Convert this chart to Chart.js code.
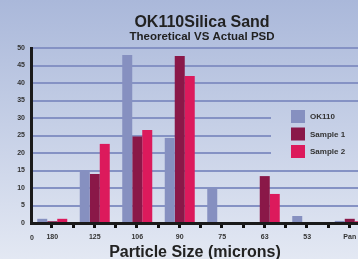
<!DOCTYPE html>
<html>
<head>
<meta charset="utf-8">
<script src="https://cdn.jsdelivr.net/npm/chart.js@4"></script>
<style>
  html, body { margin: 0; padding: 0; overflow: hidden; }
  body {
    width: 358px; height: 259px;
    background: linear-gradient(to bottom, #aab8da 0%, #c5cfe6 48%, #e3e8f3 100%);
  }
  canvas { display: block; }
</style>
</head>
<body>
<canvas id="chart" width="380" height="259"></canvas>
<script>
// sieve sizes (microns)
const sizes = ['180', '125', '106', '90', '75', '63', '53', 'Pan'];
const ok110 = [1.2, 15, 48, 24.3, 9.9, 0, 2, 0.6];
const sample1 = [0.5, 14, 24.7, 47.7, 0, 13.4, 0, 1.2];
const sample2 = [1.2, 22.6, 26.6, 42, 0, 8.3, 0, 0.5];
const seriesNames = ['OK110', 'Sample 1', 'Sample 2'];
const seriesColors = ['#8690c0', '#8a1848', '#dc1a5c'];

const FONT = '"Liberation Sans", Arial, Helvetica, sans-serif';

// titles, extra tick marks, legend box drawn by hand
const decor = {
  id: 'decor',
  beforeDatasetsDraw(chart) {
    // legend sits on top of the grid lines
    chart.ctx.clearRect(271, 106, 120, 59);
  },
  afterDraw(chart) {
    const ctx = chart.ctx;
    const x = chart.scales.x;
    ctx.save();
    ctx.fillStyle = '#222';
    ctx.textAlign = 'center';
    ctx.font = 'bold 16px ' + FONT;
    ctx.fillText('OK110Silica Sand', 202, 27);
    ctx.font = 'bold 11.5px ' + FONT;
    ctx.fillText('Theoretical VS Actual PSD', 202, 40);
    ctx.font = 'bold 16px ' + FONT;
    ctx.fillText('Particle Size (microns)', 195, 257);

    ctx.font = 'bold 7px ' + FONT;
    ctx.fillStyle = '#333';
    ctx.fillText('0', 32, 240);

    // small ticks under the axis, at centres and between bars
    ctx.fillStyle = '#111';
    for (let i = 0; i < sizes.length; i++) {
      const c = x.getPixelForValue(i);
      ctx.fillRect(Math.round(c) - 2, 225, 3, 3);
      ctx.fillRect(Math.round(c + 21.25) - 2, 225, 3, 3);
    }

    // legend
    ctx.textAlign = 'left';
    ctx.textBaseline = 'middle';
    ctx.font = 'bold 8px ' + FONT;
    seriesNames.forEach((n, i) => {
      const y = 110 + i * 17.5;
      ctx.fillStyle = seriesColors[i];
      ctx.fillRect(291, y, 14, 13);
      ctx.fillStyle = '#333';
      ctx.fillText(n, 310, y + 7);
    });
    ctx.restore();
  }
};

new Chart(document.getElementById('chart'), {
  type: 'bar',
  data: {
    labels: sizes,
    datasets: [
      { label: seriesNames[0], data: ok110, backgroundColor: seriesColors[0] },
      { label: seriesNames[1], data: sample1, backgroundColor: seriesColors[1] },
      { label: seriesNames[2], data: sample2, backgroundColor: seriesColors[2] }
    ]
  },
  options: {
    responsive: false,
    animation: false,
    layout: { padding: { top: 48, right: 9, left: 0, bottom: 0 } },
    categoryPercentage: 0.706,
    barPercentage: 1,
    plugins: { legend: { display: false }, tooltip: { enabled: false } },
    scales: {
      x: {
        grid: { display: false, drawTicks: false },
        border: { color: '#1a1a1a', width: 3 },
        ticks: { color: '#333', font: { family: FONT, size: 7, weight: 'bold' }, padding: 10, maxRotation: 0 },
        afterFit(s) { s.height = 36; }
      },
      y: {
        min: 0, max: 50,
        grid: { color: '#8592c4', lineWidth: 2, drawTicks: false },
        border: { color: '#1a1a1a', width: 3 },
        ticks: { stepSize: 5, color: '#333', font: { family: FONT, size: 7, weight: 'bold' }, padding: 6 },
        afterFit(s) { s.width = 31; }
      }
    }
  },
  plugins: [decor]
});
</script>
</body>
</html>
